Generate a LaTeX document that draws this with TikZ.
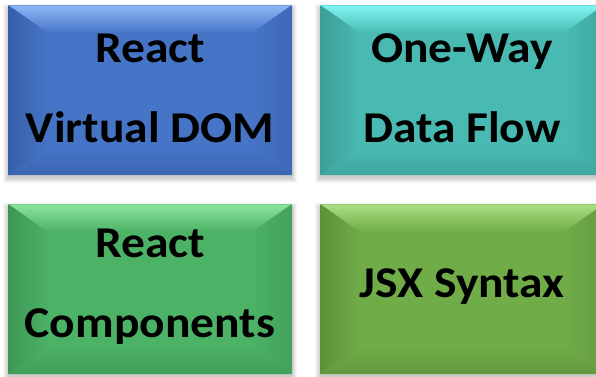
\documentclass[tikz,border=0pt]{standalone}
\usepackage{fontspec}
\setmainfont{Carlito}[FakeStretch=1.08]
\definecolor{bBase}{RGB}{70,116,198}
\definecolor{bLight}{RGB}{142,184,246}
\definecolor{bDark}{RGB}{55,95,170}
\definecolor{tBase}{RGB}{72,186,178}
\definecolor{tLight}{RGB}{128,246,242}
\definecolor{tDark}{RGB}{58,158,150}
\definecolor{gBase}{RGB}{76,178,102}
\definecolor{gLight}{RGB}{142,228,156}
\definecolor{gDark}{RGB}{60,150,84}
\definecolor{lBase}{RGB}{112,172,72}
\definecolor{lLight}{RGB}{170,222,130}
\definecolor{lDark}{RGB}{92,145,56}
\tikzset{boxtext/.style={font=\fontsize{44}{80}\selectfont\bfseries, align=center, text=black, inner sep=0pt}}
\newcommand\bevbox[9]{%
  \foreach \i in {1,...,6}{\fill[black,opacity=0.035] (#2-\i+1,#3+5-\i) rectangle (#4+\i-1,#5+2+\i);}
  \fill[#6] (#2,#3) rectangle (#4,#5);
  \shade[top color=#7,bottom color=#6] (#2,#3) -- (#4,#3) -- (#4-40,#3+28) -- (#2+40,#3+28) -- cycle;
  \shade[left color=#8,right color=#6] (#2,#3) -- (#2+40,#3+28) -- (#2+40,#5-28) -- (#2,#5) -- cycle;
  \shade[left color=#6,right color=#8!60!#6] (#4,#3) -- (#4-40,#3+28) -- (#4-40,#5-28) -- (#4,#5) -- cycle;
  \shade[top color=#6,bottom color=#8!70!#6] (#2,#5) -- (#2+40,#5-28) -- (#4-40,#5-28) -- (#4,#5) -- cycle;
  \draw[#7!60!#6,line width=0.8pt] (#2+0.4,#3+0.4) -- (#4-0.4,#3+0.4);
  \node[boxtext] (#1) at ({(#2+#4)/2},{(#3+#5)/2-2}) {#9};
}
\begin{document}
\begin{tikzpicture}[x=1pt,y=-1pt]
\useasboundingbox (0,0) rectangle (596,376);
\fill[white] (0,0) rectangle (596,376);
\bevbox{vdom}{8}{5}{292}{175}{bBase}{bLight}{bDark}{React\\Virtual DOM}
\bevbox{flow}{320}{5}{604}{175}{tBase}{tLight}{tDark}{One-Way\\Data Flow}
\bevbox{comp}{8}{204}{292}{374}{gBase}{gLight}{gDark}{React\\Components}
\bevbox{jsx}{320}{204}{604}{374}{lBase}{lLight}{lDark}{JSX Syntax}
\end{tikzpicture}
\end{document}
